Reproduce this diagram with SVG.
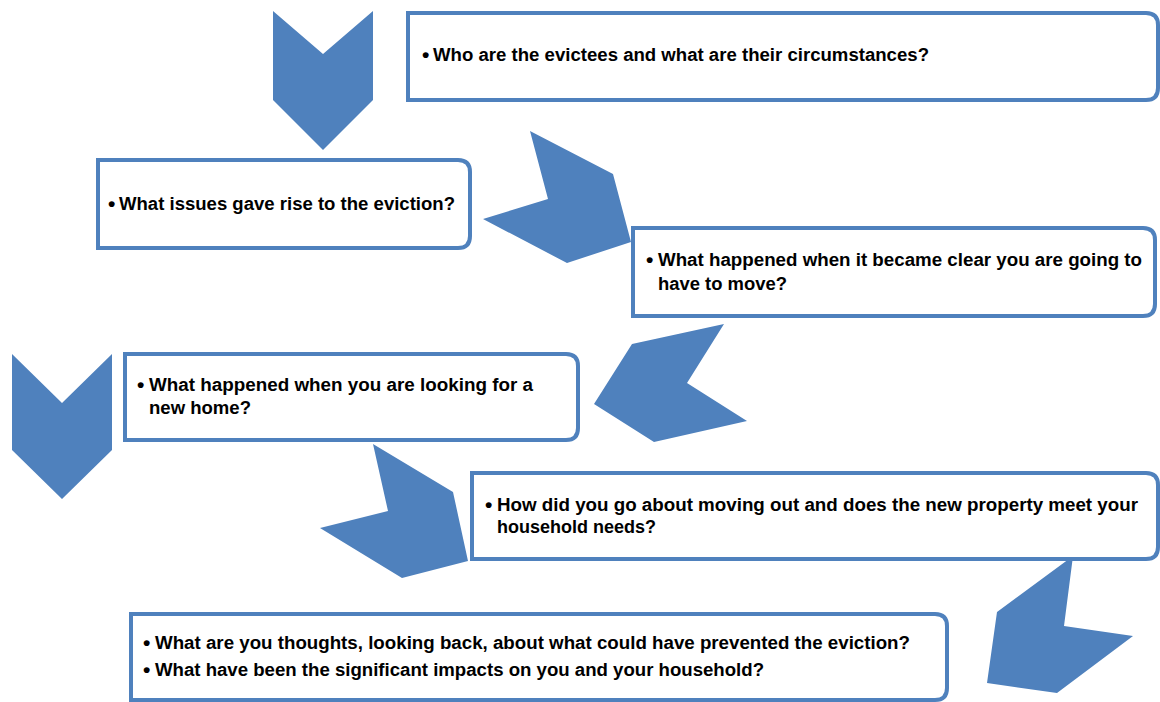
<svg xmlns="http://www.w3.org/2000/svg" width="1160" height="702" viewBox="0 0 1160 702">
<style>
.chev{fill:#4F81BD;stroke:none}
.box{fill:#FFFFFF;stroke:#4F81BD;stroke-width:4}
.t{font-family:"Liberation Sans",Arial,sans-serif;font-weight:bold;font-size:17.5px;fill:#000000}
.b{font-family:"Liberation Sans",Arial,sans-serif;font-weight:bold;font-size:21px;fill:#000000}
</style>
<rect width="1160" height="702" fill="#FFFFFF"/>
<g id="connectors">
<polygon class="chev" points="273,11 323,54 373,11 373,100 323,150 273,100"/>
<polygon class="chev" points="530,131 613,174 631,242 567,263 483,219 548,199"/>
<polygon class="chev" points="724,324 687,383 747,421 654,442 594,404 632,344"/>
<polygon class="chev" points="12,354 62,403 112,354 112,450 62,499 12,450"/>
<polygon class="chev" points="373,444 453,492 468,561 402,578 320,528 388,511"/>
<polygon class="chev" points="1073,556 1064,626 1133,636 1057,693 987,683 997,612"/>
</g>
<g id="node1">
<path class="box" d="M408,13 H1146 Q1158,13 1158,25 V88 Q1158,100 1146,100 H408 Z"/>
<text class="b" x="422" y="62">•</text>
<text class="t" x="433" y="61" textLength="496" lengthAdjust="spacingAndGlyphs">Who are the evictees and what are their circumstances?</text>
</g>
<g id="node2">
<path class="box" d="M98,160 H458 Q470,160 470,172 V236 Q470,248 458,248 H98 Z"/>
<text class="b" x="108" y="211">•</text>
<text class="t" x="119" y="210" textLength="336" lengthAdjust="spacingAndGlyphs">What issues gave rise to the eviction?</text>
</g>
<g id="node3">
<path class="box" d="M633,228 H1143 Q1155,228 1155,240 V304 Q1155,316 1143,316 H633 Z"/>
<text class="b" x="646" y="267">•</text>
<text class="t" x="658" y="266" textLength="484" lengthAdjust="spacingAndGlyphs">What happened when it became clear you are going to</text>
<text class="t" x="658" y="290" textLength="129" lengthAdjust="spacingAndGlyphs">have to move?</text>
</g>
<g id="node4">
<path class="box" d="M125,354 H566 Q578,354 578,366 V428 Q578,440 566,440 H125 Z"/>
<text class="b" x="137" y="392">•</text>
<text class="t" x="149" y="391" textLength="384" lengthAdjust="spacingAndGlyphs">What happened when you are looking for a</text>
<text class="t" x="149" y="414" textLength="102" lengthAdjust="spacingAndGlyphs">new home?</text>
</g>
<g id="node5">
<path class="box" d="M472,473 H1146 Q1158,473 1158,485 V547 Q1158,559 1146,559 H472 Z"/>
<text class="b" x="485" y="512">•</text>
<text class="t" x="497" y="511" textLength="641" lengthAdjust="spacingAndGlyphs">How did you go about moving out and does the new property meet your</text>
<text class="t" x="497" y="533" textLength="159" lengthAdjust="spacingAndGlyphs">household needs?</text>
</g>
<g id="node6">
<path class="box" d="M131,614 H935 Q947,614 947,626 V688 Q947,700 935,700 H131 Z"/>
<text class="b" x="143" y="650">•</text>
<text class="t" x="155" y="649" textLength="755" lengthAdjust="spacingAndGlyphs">What are you thoughts, looking back, about what could have prevented the eviction?</text>
<text class="b" x="143" y="677">•</text>
<text class="t" x="155" y="676" textLength="609" lengthAdjust="spacingAndGlyphs">What have been the significant impacts on you and your household?</text>
</g>
</svg>
